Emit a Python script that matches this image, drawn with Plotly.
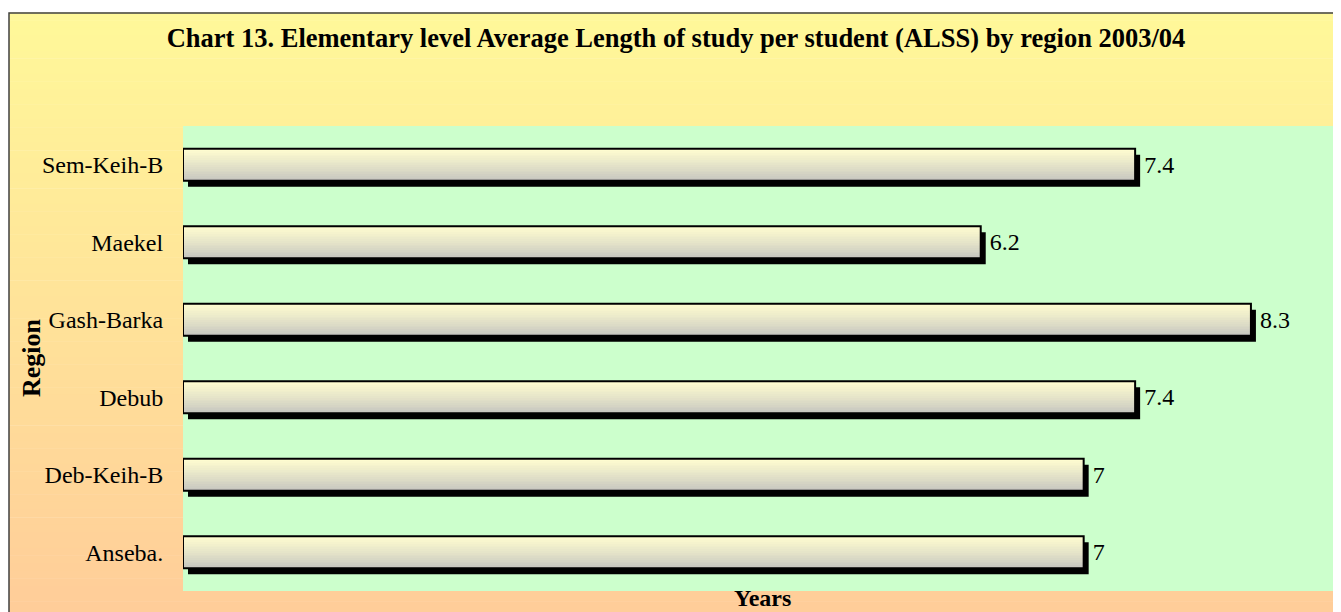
import plotly.graph_objects as go

# ---- data ----
regions = ["Anseba.", "Deb-Keih-B", "Debub", "Gash-Barka", "Maekel", "Sem-Keih-B"]
alss_years = [7, 7, 7.4, 8.3, 6.2, 7.4]
value_labels = ["7", "7", "7.4", "8.3", "6.2", "7.4"]

title_text = "Chart 13. Elementary level Average Length of study per student (ALSS) by region 2003/04"
x_title = "Years"
y_title = "Region"

# ---- style ----
SERIF = "Liberation Serif, Times New Roman, serif"
OFF = 8                      # page body margin
W, H = 1341, 612
ML, MR, MT, MB = 183 - OFF, OFF, 126 - OFF, 21 + OFF
PW, PH = W - ML - MR, H - MT - MB
X_MAX = 9.0
BAR_W = 0.413
N_STRIPS = 18
SHADOW_DX = 5 * X_MAX / PW       # 5 px right
SHADOW_DY = 6 * 6 / PH           # 6 px down (6 categories over PH)


def lerp(c1, c2, t):
    return tuple(round(a + (b - a) * t) for a, b in zip(c1, c2))


def px_x(x):   # reference pixel -> paper x
    return (x - OFF - ML) / PW


def px_y(y):   # reference pixel -> paper y
    return (MT + PH - (y - OFF)) / PH


fig = go.Figure()

# shadow
fig.add_trace(go.Bar(
    y=regions, x=alss_years, orientation="h", base=SHADOW_DX,
    width=BAR_W, offset=-BAR_W / 2 - SHADOW_DY,
    marker=dict(color="black", line=dict(width=0)),
    hoverinfo="skip", showlegend=False))

# gradient strips (bottom gray -> top cream)
bottom_c = (192, 192, 190)
top_c = (255, 253, 208)
for i in range(N_STRIPS):
    t = (i + 0.5) / N_STRIPS
    c = lerp(bottom_c, top_c, t ** 0.8)
    fig.add_trace(go.Bar(
        y=regions, x=alss_years, orientation="h",
        width=BAR_W / N_STRIPS * 1.05, offset=-BAR_W / 2 + i * BAR_W / N_STRIPS,
        marker=dict(color="rgb(%d,%d,%d)" % c, line=dict(width=0)),
        hoverinfo="skip", showlegend=False))

# border + labels
fig.add_trace(go.Bar(
    y=regions, x=alss_years, orientation="h",
    width=BAR_W, offset=-BAR_W / 2,
    marker=dict(color="rgba(0,0,0,0)", line=dict(color="black", width=2)),
    text=[" " + s for s in value_labels], textposition="outside",
    textfont=dict(family=SERIF, size=24, color="black"),
    cliponaxis=False, showlegend=False))

# background gradient for the chart frame
x0 = px_x(9)
x1 = px_x(1341 + OFF) + 0.01
y_top = px_y(13)
y_bot = px_y(612 + OFF) - 0.01
n_bg = 80
c_top = (255, 248, 153)
c_bot = (255, 204, 153)
shapes = []
for i in range(n_bg):
    ya = y_top - (y_top - y_bot) * i / n_bg
    yb = y_top - (y_top - y_bot) * (i + 1) / n_bg
    c = lerp(c_top, c_bot, (i + 0.5) / n_bg)
    shapes.append(dict(type="rect", xref="paper", yref="paper", x0=x0, x1=x1,
                       y0=yb, y1=ya + 0.001, layer="below",
                       fillcolor="rgb(%d,%d,%d)" % c, line=dict(width=0)))
shapes.append(dict(type="rect", xref="paper", yref="paper", x0=x0, x1=x1 + 0.05,
                   y0=y_bot - 0.05, y1=y_top, layer="below",
                   fillcolor="rgba(0,0,0,0)", line=dict(color="#404040", width=1.5)))
# plot area
shapes.append(dict(type="rect", xref="paper", yref="paper", x0=0, x1=1.01,
                   y0=0, y1=1, layer="below",
                   fillcolor="#CCFFCC", line=dict(width=0)))

fig.update_layout(
    width=W, height=H,
    margin=dict(l=ML, r=MR, t=MT, b=MB, pad=0),
    paper_bgcolor="white",
    plot_bgcolor="rgba(0,0,0,0)",
    barmode="overlay",
    shapes=shapes,
    title=dict(text="<b>" + title_text + "</b>", xref="paper", x=px_x(676),
               xanchor="center", yref="container", y=1 - (38 - OFF) / H, yanchor="middle",
               font=dict(family=SERIF, size=26.5, color="black")),
    xaxis=dict(range=[0, X_MAX], showgrid=False, zeroline=False, showline=False,
               showticklabels=False, ticks=""),
    yaxis=dict(showgrid=False, zeroline=False, showline=False,
               ticks="outside", ticklen=14, tickcolor="rgba(0,0,0,0)",
               tickfont=dict(family=SERIF, size=24, color="black")),
    annotations=[
        dict(text="<b>" + x_title + "</b>", xref="paper", yref="paper",
             x=px_x(762), y=px_y(598), xanchor="center", yanchor="middle",
             showarrow=False, font=dict(family=SERIF, size=24, color="black")),
        dict(text="<b>" + y_title + "</b>", xref="paper", yref="paper",
             x=px_x(31), y=px_y(357), xanchor="center", yanchor="middle",
             textangle=-90, showarrow=False,
             font=dict(family=SERIF, size=26, color="black")),
    ],
)

fig.write_html("out.html")
